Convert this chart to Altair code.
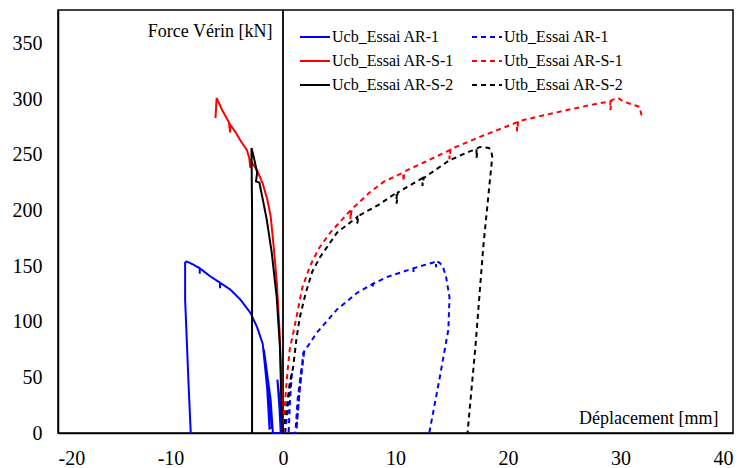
import altair as alt
import pandas as pd

FONT = "Liberation Serif"

# legend is filled column by column: Ucb series in column 1, Utb series in column 2
series_names = ["Ucb_Essai AR-1", "Ucb_Essai AR-S-1", "Ucb_Essai AR-S-2",
                "Utb_Essai AR-1", "Utb_Essai AR-S-1", "Utb_Essai AR-S-2"]
series_colors = ["#0000FF", "#FF0000", "#000000", "#0000FF", "#FF0000", "#000000"]
series_dash = [[1, 0], [1, 0], [1, 0], [5, 4], [5, 4], [5, 4]]

x_ticks = [-20, -10, 0, 10, 20, 30, 40]
y_ticks = [0, 50, 100, 150, 200, 250, 300, 350]

# Ucb_Essai AR-1 (blue, solid)
ucb_ar1_x = [-0.1, -0.3, -0.5, -0.3, -0.2, -0.9, -1.1, -1.5, -1.7, -1.3, -1.0,
             -1.2, -1.4, -1.6, -1.8, -2.3, -2.9, -3.8, -4.7, -5.6, -5.6, -5.6,
             -6.5, -7.4, -7.4, -7.4, -8.3, -8.6, -8.7, -8.7, -8.6, -8.4, -8.2]
ucb_ar1_y = [0, 30, 48, 20, 0, 0, 30, 60, 75, 40, 5,
             4, 39, 60, 80, 95, 108, 120, 129, 135, 130, 135,
             141, 148, 143, 148, 153, 154, 153, 120, 95, 45, 0]

# Utb_Essai AR-1 (blue, dashed)
utb_ar1_x = [0.2, 0.5, 0.8, 0.6, 0.5, 1.1, 1.3, 1.6, 1.9, 1.5, 1.2, 1.4, 1.8,
             3.0, 4.8, 6.6, 8.0, 8.0, 8.0, 9.2, 11.6, 11.6, 11.6, 13.3, 13.6,
             13.6, 13.7, 13.9, 14.2, 14.5, 14.8, 14.7, 13.9, 13.0]
utb_ar1_y = [0, 30, 55, 25, 0, 0, 30, 55, 75, 40, 3, 30, 72,
             90, 111, 126, 134, 130, 134, 140, 148, 144, 148, 153, 154,
             149, 154, 153, 150, 140, 122, 93, 48, 0]

# Ucb_Essai AR-S-1 (red, solid)
ucb_ars1_x = [0.0, -0.1, -0.2, -0.3, -0.4, -0.55, -0.7, -0.9, -1.1, -1.4, -1.8,
              -2.3, -2.9, -2.9, -3.0, -3.2, -3.8, -4.2, -4.7, -4.7, -4.8, -5.4,
              -5.9, -6.0]
ucb_ars1_y = [0, 30, 63, 90, 108, 135, 153, 175, 195, 210, 224,
              236, 245, 238, 247, 254, 263, 270, 277, 270, 279, 290,
              301, 283]

# Utb_Essai AR-S-1 (red, dashed)
utb_ars1_x = [0.0, 0.2, 0.4, 0.6, 1.2, 1.7, 2.4, 3.2, 4.2, 6.0, 6.0, 6.1, 7.7,
              9.0, 10.7, 10.7, 10.8, 12.5, 14.8, 14.8, 14.9, 17.5, 20.8, 20.8,
              20.9, 23.0, 25.2, 27.5, 29.1, 29.1, 29.2, 29.8, 30.2, 31.7, 31.9]
utb_ars1_y = [0, 30, 55, 75, 104, 130, 150, 166, 180, 200, 192, 201, 216,
              226, 234, 226, 235, 243, 254, 246, 255, 266, 279, 271,
              280, 285, 290, 295, 298, 290, 299, 301, 298, 293, 284]

# Ucb_Essai AR-S-2 (black, solid)
ucb_ars2_x = [0.0, -0.12, -0.27, -0.56, -1.0, -1.45, -1.8, -2.1, -2.4, -2.3,
              -2.6, -2.8, -2.75, -2.75, -2.75]
ucb_ars2_y = [0, 18, 77, 122, 162, 192, 210, 225, 226, 234,
              248, 256, 200, 100, 0]

# Utb_Essai AR-S-2 (black, dashed)
utb_ars2_x = [0.0, 0.3, 0.6, 0.9, 1.2, 1.5, 2.0, 2.6, 3.3, 4.8, 6.6, 6.6, 6.7,
              8.5, 10.1, 10.1, 10.2, 12.4, 12.4, 12.5, 14.8, 16.6, 17.2, 17.2,
              17.3, 17.5, 18.3, 18.5, 18.6, 17.8, 17.1, 16.4]
utb_ars2_y = [0, 20, 45, 59, 85, 104, 125, 145, 158, 180, 194, 188, 195,
              205, 216, 206, 216, 229, 222, 229, 245, 253, 255, 247,
              256, 257, 256, 254, 248, 167, 77, 0]

series_xs = [ucb_ar1_x, ucb_ars1_x, ucb_ars2_x, utb_ar1_x, utb_ars1_x, utb_ars2_x]
series_ys = [ucb_ar1_y, ucb_ars1_y, ucb_ars2_y, utb_ar1_y, utb_ars1_y, utb_ars2_y]

rows = []
for name, xs, ys in zip(series_names, series_xs, series_ys):
    for i, (xv, yv) in enumerate(zip(xs, ys)):
        rows.append({"serie": name, "i": i, "x": xv, "y": yv})
df = pd.DataFrame(rows)

legend = alt.Legend(
    title=None, orient="none", legendX=241, legendY=17, columns=2,
    symbolType="stroke", symbolSize=900, symbolStrokeWidth=2,
    labelFont=FONT, labelFontSize=16, labelColor="black", labelLimit=300,
    clipHeight=20, rowPadding=4, columnPadding=16, labelOffset=1, padding=0,
)

x_enc = alt.X("x:Q", scale=alt.Scale(domain=[-20, 40], nice=False, zero=False),
              axis=alt.Axis(values=x_ticks, title="Déplacement [mm]",
                            labelExpr="'' + datum.value",
                            titleX=660, titleY=-15, titleAlign="right",
                            titleBaseline="middle", titleAngle=0))
y_enc = alt.Y("y:Q", scale=alt.Scale(domain=[0, 380], nice=False),
              axis=alt.Axis(values=y_ticks, title="Force Vérin [kN]",
                            titleX=214, titleY=21, titleAlign="right",
                            titleBaseline="middle", titleAngle=0))

zero_df = pd.DataFrame({"x": [0]})
zero_line = alt.Chart(zero_df).mark_rule(color="black", strokeWidth=1.8).encode(
    x=alt.X("x:Q")
)

lines = alt.Chart(df).mark_line(strokeWidth=2).encode(
    x=x_enc,
    y=y_enc,
    color=alt.Color("serie:N", scale=alt.Scale(domain=series_names, range=series_colors),
                    legend=legend),
    strokeDash=alt.StrokeDash("serie:N", scale=alt.Scale(domain=series_names, range=series_dash),
                              legend=legend),
    order=alt.Order("i:Q"),
)

chart = alt.layer(zero_line, lines).properties(
    width=675, height=423,
    autosize=alt.AutoSizeParams(type="none"),
    padding={"left": 50, "top": 2, "right": 2, "bottom": 35},
).configure_view(
    stroke="black", strokeWidth=1.5
).configure_axis(
    domainColor="black", domainWidth=1.5, ticks=False, grid=False,
    labelFont=FONT, labelFontSize=20, labelColor="black",
    titleFont=FONT, titleFontSize=18, titleFontWeight="normal", titleColor="black",
).configure_axisY(
    labelPadding=16
).configure_axisX(
    labelPadding=15
)

chart.save("out.html", embed_options={"renderer": "svg", "actions": False})
